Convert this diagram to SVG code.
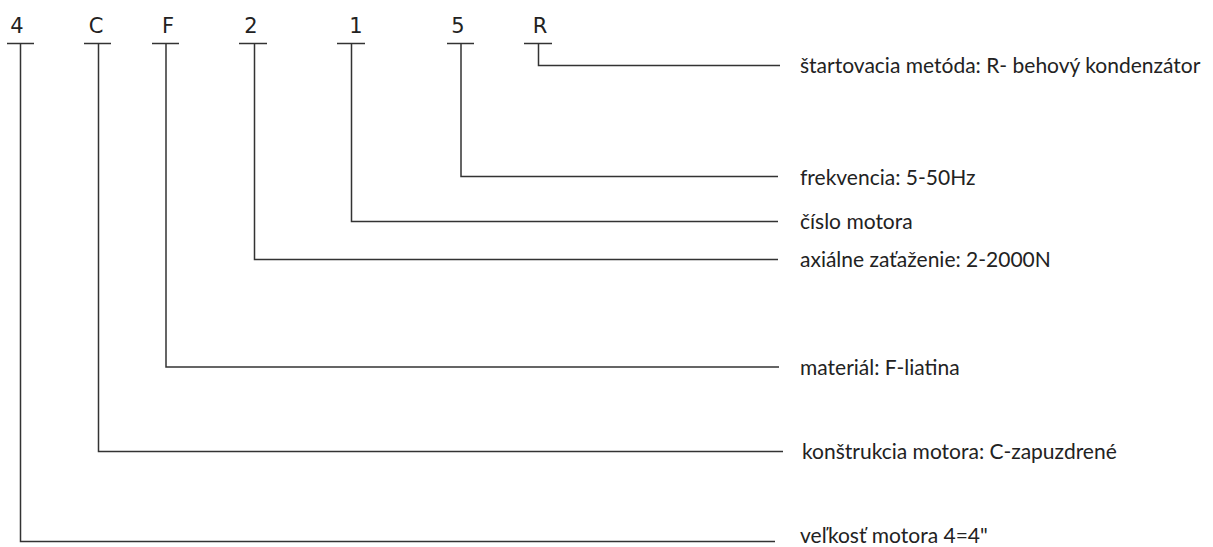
<svg xmlns="http://www.w3.org/2000/svg" width="1213" height="547" viewBox="0 0 1213 547">
<style>
.ln{fill:none;stroke:#333;stroke-width:1.5}
.code{font-family:"DejaVu Sans",sans-serif;font-size:21px;fill:#222;text-anchor:middle}
.lbl{font-family:Lato,"Liberation Sans",sans-serif;font-size:21px;fill:#222}
</style>
<rect width="1213" height="547" fill="#fff"/>
<g id="node-4"><text class="code" x="17" y="33">4</text><line class="ln" x1="7" y1="43.5" x2="34" y2="43.5"/></g>
<g id="node-C"><text class="code" x="96" y="33">C</text><line class="ln" x1="84" y1="43.5" x2="111" y2="43.5"/></g>
<g id="node-F"><text class="code" x="168" y="33">F</text><line class="ln" x1="152" y1="43.5" x2="179" y2="43.5"/></g>
<g id="node-2"><text class="code" x="251" y="33">2</text><line class="ln" x1="239" y1="43.5" x2="267" y2="43.5"/></g>
<g id="node-1"><text class="code" x="356" y="33">1</text><line class="ln" x1="337" y1="43.5" x2="365" y2="43.5"/></g>
<g id="node-5"><text class="code" x="458" y="33">5</text><line class="ln" x1="447" y1="43.5" x2="474" y2="43.5"/></g>
<g id="node-R"><text class="code" x="540" y="33">R</text><line class="ln" x1="524" y1="43.5" x2="552" y2="43.5"/></g>
<g id="labels">
<text class="lbl" x="800" y="73">štartovacia metóda: R- behový kondenzátor</text>
<text class="lbl" x="800" y="185">frekvencia: 5-50Hz</text>
<text class="lbl" x="800" y="229">číslo motora</text>
<text class="lbl" x="800" y="267">axiálne zaťaženie: 2-2000N</text>
<text class="lbl" x="800" y="375">materiál: F-liatina</text>
<text class="lbl" x="802" y="459">konštrukcia motora: C-zapuzdrené</text>
<text class="lbl" x="800" y="543">veľkosť motora 4=4"</text>
</g>
<g id="connectors">
<polyline class="ln" points="538.5,43.5 538.5,65.5 780,65.5"/>
<polyline class="ln" points="461,43.5 461,176.5 778,176.5"/>
<polyline class="ln" points="351.5,43.5 351.5,221.5 778,221.5"/>
<polyline class="ln" points="254.5,43.5 254.5,259.5 778,259.5"/>
<polyline class="ln" points="166,43.5 166,367 779,367"/>
<polyline class="ln" points="98.5,43.5 98.5,451.5 783,451.5"/>
<polyline class="ln" points="20.5,43.5 20.5,541.5 775,541.5"/>
</g>
</svg>
